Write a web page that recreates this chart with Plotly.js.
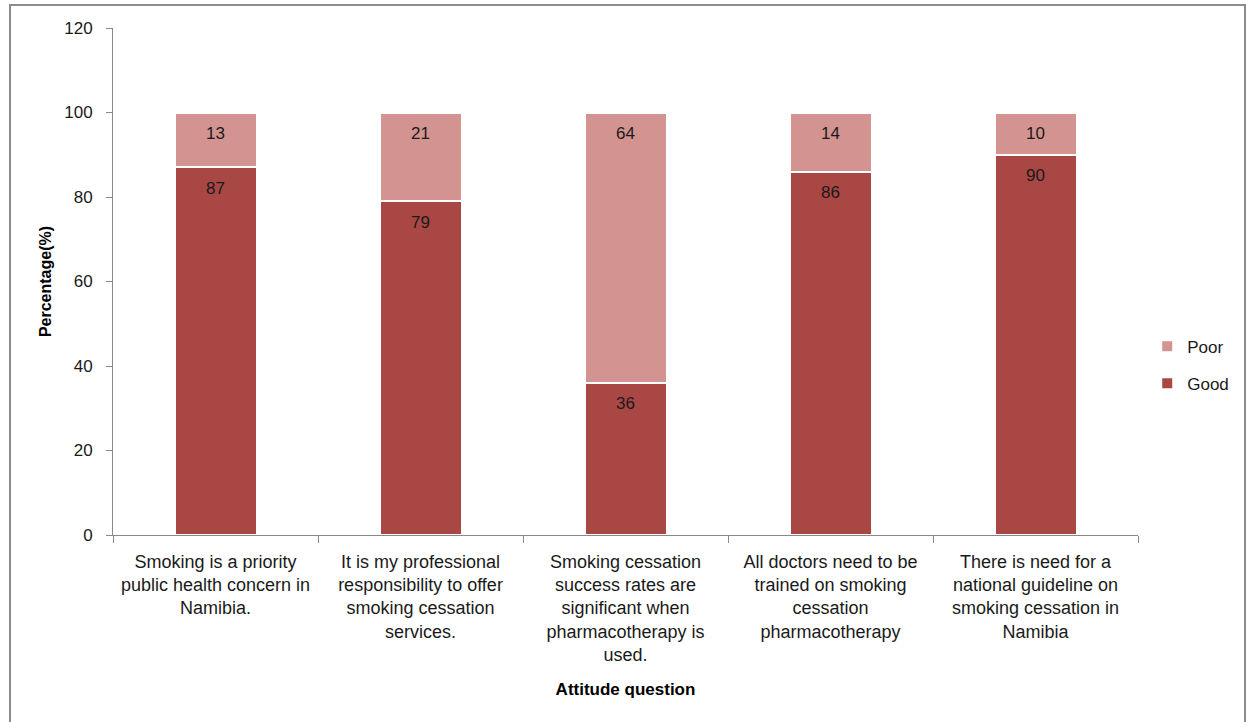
<!DOCTYPE html>
<html>
<head>
<meta charset="utf-8">
<script src="https://cdn.plot.ly/plotly-3.0.1.min.js"></script>
<style>
  html, body { margin: 0; padding: 0; background: #fff; overflow: hidden; }
  #chart { width: 1251px; height: 722px; }
  #frame { position: absolute; left: 9px; top: 4px; width: 1237px; height: 730px;
           border: 2px solid #8c8c8c; pointer-events: none; box-sizing: border-box; }
</style>
</head>
<body>
<div id="chart"></div>
<div id="frame"></div>
<script>
const categories = [
  "Smoking is a priority<br>public health concern in<br>Namibia.",
  "It is my professional<br>responsibility to offer<br>smoking cessation<br>services.",
  "Smoking cessation<br>success rates are<br>significant when<br>pharmacotherapy is<br>used.",
  "All doctors need to be<br>trained on smoking<br>cessation<br>pharmacotherapy",
  "There is need for a<br>national guideline on<br>smoking cessation in<br>Namibia"
];
const goodValues = [87, 79, 36, 86, 90];
const poorValues = [13, 21, 64, 14, 10];
const yTicks = [0, 20, 40, 60, 80, 100, 120];

const font = "Liberation Sans, Arial, sans-serif";
const txtColor = "#1a1a1a";

const traces = [
  {
    type: "bar", name: "Good", legendgroup: "g", legendrank: 2, x: categories, y: goodValues,
    width: 0.4, hoverinfo: "skip",
    marker: { color: "#A94744", line: { color: "#ffffff", width: 2 } }
  },
  {
    type: "bar", name: "Poor", legendgroup: "p", legendrank: 1, x: categories, y: poorValues,
    width: 0.4, hoverinfo: "skip",
    marker: { color: "#D39391", line: { color: "#ffffff", width: 2 } }
  }
];

// data labels: placed near the top of each stacked segment
const annotations = [];
categories.forEach((c, i) => {
  annotations.push({
    x: c, y: goodValues[i], xref: "x", yref: "y",
    text: String(goodValues[i]), showarrow: false,
    yanchor: "middle", yshift: -21,
    font: { family: font, size: 17, color: txtColor }
  });
  annotations.push({
    x: c, y: goodValues[i] + poorValues[i], xref: "x", yref: "y",
    text: String(poorValues[i]), showarrow: false,
    yanchor: "middle", yshift: -21,
    font: { family: font, size: 17, color: txtColor }
  });
});

const layout = {
  width: 1251, height: 722,
  margin: { l: 113, r: 113, t: 28, b: 187 },
  paper_bgcolor: "#ffffff", plot_bgcolor: "#ffffff",
  barmode: "stack",
  font: { family: font, size: 17, color: txtColor },
  showlegend: true,
  annotations: annotations,
  legend: {
    x: 1.009, y: 0.335, xanchor: "left", yanchor: "middle",
    traceorder: "grouped",
    tracegroupgap: 12,
    font: { family: font, size: 17, color: txtColor },
    itemwidth: 30
  },
  xaxis: {
    type: "category",
    tickson: "boundaries",
    ticks: "outside", ticklen: 7, tickcolor: "#888888",
    showline: true, linecolor: "#888888", linewidth: 1,
    showgrid: false, zeroline: false,
    tickfont: { family: font, size: 18, color: txtColor },
    tickangle: 0,
    ticklabelstandoff: 10,
    title: { text: "<b>Attitude question</b>", font: { family: font, size: 17, color: "#000" }, standoff: 18 }
  },
  yaxis: {
    range: [0, 120],
    tickvals: yTicks,
    ticktext: yTicks.map(String),
    ticks: "outside", ticklen: 6, tickcolor: "#888888",
    showline: true, linecolor: "#888888", linewidth: 1,
    showgrid: false, zeroline: false,
    tickfont: { family: font, size: 17, color: txtColor },
    ticklabelstandoff: 10,
    title: { text: "<b>Percentage(%)</b>", font: { family: font, size: 16, color: "#000" }, standoff: 8 }
  }
};

Plotly.newPlot("chart", traces, layout, { displayModeBar: false, staticPlot: true });
</script>
</body>
</html>
